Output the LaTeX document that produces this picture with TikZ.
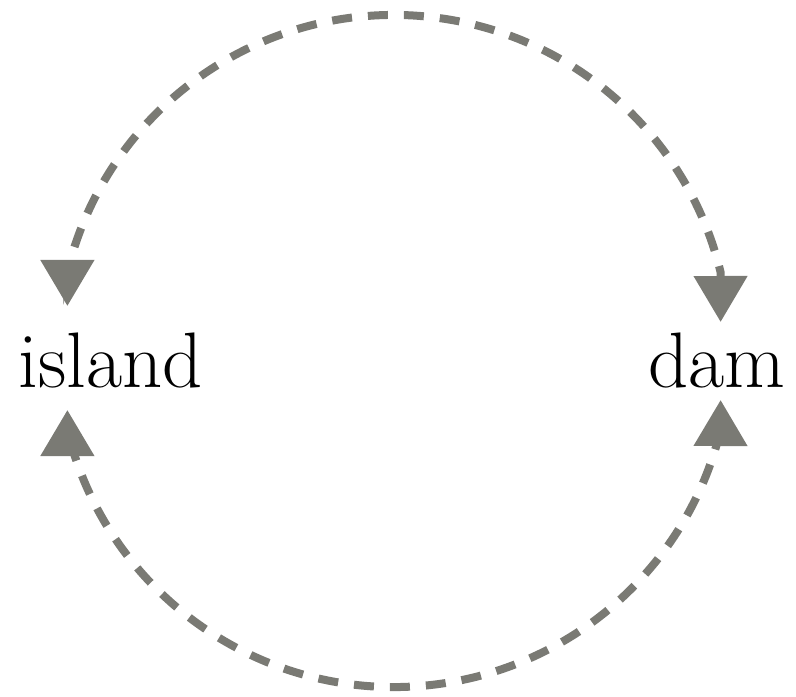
\documentclass[tikz,border=0pt]{standalone}
\usepackage{tikz}
\usetikzlibrary{arrows.meta,positioning,calc}
\definecolor{loopgrey}{HTML}{7A7A74}
\tikzset{
  >={Triangle[length=11.5mm,width=13mm]},
  % ord och slinga
  word/.style={inner sep=0pt,font=\fontsize{56}{60}\selectfont,text=black},
  cyc/.style={<->,draw=loopgrey,line width=2mm,dash pattern=on 5mm off 4mm},
}
\begin{document}
\begin{tikzpicture}
\useasboundingbox (0,0) rectangle (19.9,17.4);
  \node[word,anchor=base] (island) at (2.775,7.725) {island};
  \node[word,anchor=base] (dam) at (17.925,7.725) {dam};
  \coordinate (islandtop) at (1.685,9.75);
  \coordinate (islandbot) at (1.685,7.15);
  \coordinate (damtop) at (18.015,9.35);
  \coordinate (dambot) at (18.015,7.4);
  \draw[cyc] (islandtop) -- ++(0,0.85)
    arc[start angle=166.4,end angle=13.6,radius=8.4] -- (damtop);
  \draw[cyc] (islandbot) -- ++(0,-0.5)
    arc[start angle=193.6,end angle=346.4,radius=8.4] -- (dambot);
\end{tikzpicture}
\end{document}
